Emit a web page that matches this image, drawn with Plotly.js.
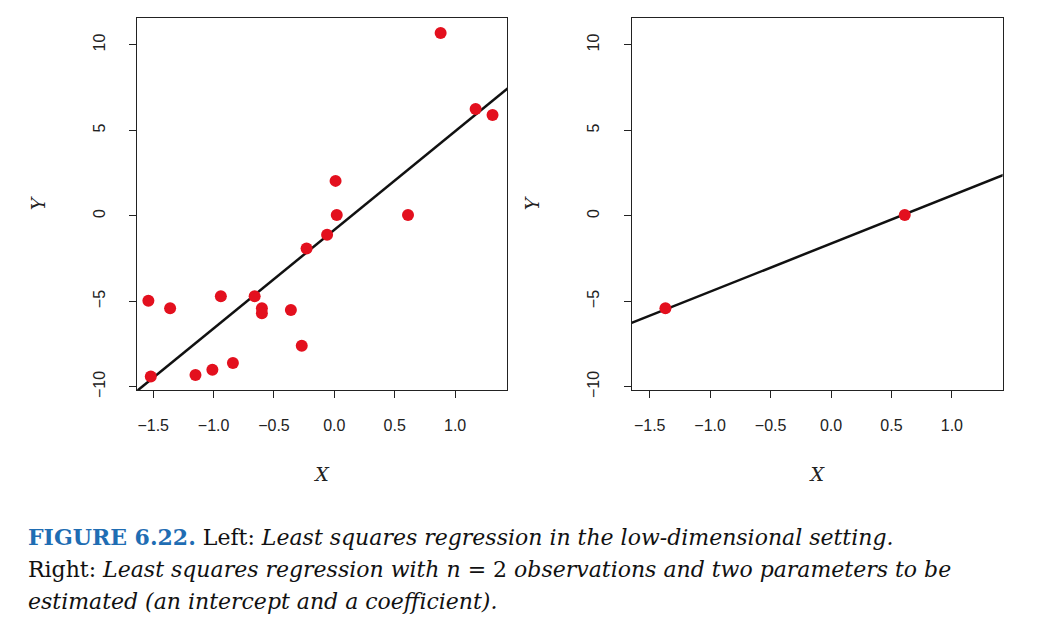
<!DOCTYPE html>
<html>
<head>
<meta charset="utf-8">
<script src="https://cdn.plot.ly/plotly-3.0.1.min.js"></script>
<style>body{margin:0;background:#fff}#chart{width:1039px;height:633px}</style>
</head>
<body>
<div id="chart"></div>
<script>
// left panel: 20 observations
const leftX = [-1.54, -1.52, -1.36, -1.15, -1.01, -0.94, -0.84, -0.66, -0.60, -0.60,
               -0.36, -0.27, -0.23, -0.06, 0.01, 0.02, 0.61, 0.88, 1.17, 1.31];
const leftY = [-4.97, -9.4, -5.4, -9.3, -9.0, -4.7, -8.6, -4.7, -5.4, -5.7,
               -5.5, -7.6, -1.9, -1.1, 2.05, 0.06, 0.06, 10.7, 6.26, 5.9];
const leftLineX = [-1.65, 1.45];
const leftLineY = [-10.33, 7.55];

// right panel: n = 2
const rightX = [-1.37, 0.61];
const rightY = [-5.4, 0.06];
const rightLineX = [-1.65, 1.45];
const rightLineY = [-6.26, 2.46];

const red = '#e3101e';
const tickFont = { family: 'Liberation Sans, Arial, sans-serif', size: 16, color: '#222' };
const titleFont = { family: 'DejaVu Serif, serif', size: 19, color: '#222' };

function pts(x, y, xa, ya) {
    return { x: x, y: y, xaxis: xa, yaxis: ya, type: 'scatter', mode: 'markers',
        marker: { color: red, size: 12 }, hoverinfo: 'skip' };
}
function line(x, y, xa, ya) {
    return { x: x, y: y, xaxis: xa, yaxis: ya, type: 'scatter', mode: 'lines',
        line: { color: '#111', width: 2.5 }, hoverinfo: 'skip' };
}
function xax(dom, range, anchor) {
    return { domain: dom, range: range, anchor: anchor,
        tickvals: [-1.5, -1.0, -0.5, 0.0, 0.5, 1.0],
        ticktext: ['\u22121.5', '\u22121.0', '\u22120.5', '0.0', '0.5', '1.0'],
        ticks: 'outside', ticklen: 7, tickcolor: '#222', showgrid: false, zeroline: false,
        showline: true, mirror: true, linecolor: '#222', linewidth: 1,
        ticklabelstandoff: 14,
        tickfont: tickFont, title: { text: '<i>X</i>', font: titleFont, standoff: 34 } };
}
function yax(anchor) {
    return { domain: [0.384, 0.9716], range: [-10.18, 11.58], anchor: anchor,
        tickvals: [-10, -5, 0, 5, 10], ticktext: ['\u221210', '\u22125', '0', '5', '10'],
        tickangle: -90, ticks: 'outside', ticklen: 7, tickcolor: '#222',
        showgrid: false, zeroline: false,
        showline: true, mirror: true, linecolor: '#222', linewidth: 1,
        ticklabelstandoff: 18,
        tickfont: tickFont, title: { text: '<i>Y</i>', font: titleFont, standoff: 40 } };
}

const capFont = { family: 'DejaVu Serif, serif', size: 22, color: '#111' };
const blue = '#1f6db3';

Plotly.newPlot('chart', [
    line(leftLineX, leftLineY, 'x', 'y'),
    pts(leftX, leftY, 'x', 'y'),
    line(rightLineX, rightLineY, 'x2', 'y2'),
    pts(rightX, rightY, 'x2', 'y2')
], {
    width: 1039, height: 633, showlegend: false,
    paper_bgcolor: '#fff', plot_bgcolor: '#fff',
    margin: { l: 0, r: 0, t: 0, b: 0 },
    xaxis: xax([0.132, 0.488], [-1.633, 1.43], 'y'),
    yaxis: yax('x'),
    xaxis2: xax([0.608, 0.965], [-1.649, 1.42], 'y2'),
    yaxis2: yax('x2'),
    annotations: [
        { xref: 'paper', yref: 'paper', x: 0.025, y: 1 - 537 / 633, xanchor: 'left', yanchor: 'middle',
          showarrow: false, font: capFont,
          text: '<span style="color:' + blue + '"><b>FIGURE 6.22.</b></span> Left: <i>Least squares regression in the low-dimensional setting.</i>' },
        { xref: 'paper', yref: 'paper', x: 0.025, y: 1 - 569 / 633, xanchor: 'left', yanchor: 'middle',
          showarrow: false, font: capFont,
          text: 'Right: <i>Least squares regression with n</i> = 2 <i>observations and two parameters to be</i>' },
        { xref: 'paper', yref: 'paper', x: 0.025, y: 1 - 601 / 633, xanchor: 'left', yanchor: 'middle',
          showarrow: false, font: capFont,
          text: '<i>estimated (an intercept and a coefficient).</i>' }
    ]
}, { staticPlot: true });
</script>
</body>
</html>
